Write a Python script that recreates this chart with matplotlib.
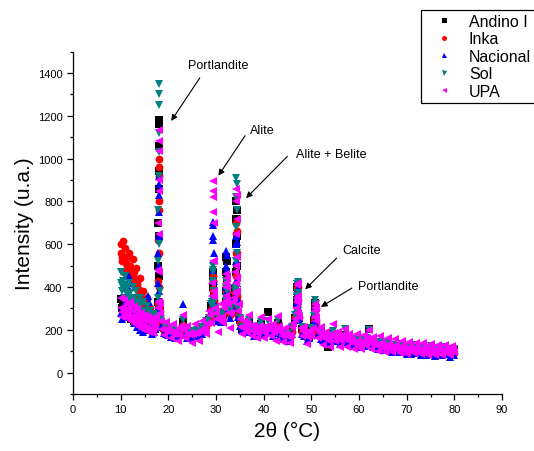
import numpy as np
import matplotlib
matplotlib.use('Agg')
import matplotlib.pyplot as plt
from matplotlib.ticker import MultipleLocator
from matplotlib.lines import Line2D

plt.rcParams['font.family'] = ['Liberation Sans', 'DejaVu Sans']

# ---------------- data ----------------
series_names = ['Andino I', 'Inka', 'Nacional', 'Sol', 'UPA']
series_colors = ['#000000', '#ff0000', '#0000ff', '#008080', '#ff00ff']
series_markers = ['s', 'o', '^', 'v', '<']

# scan grid (2theta): 0.25 deg steps 10-17.25, then 0.5 deg steps 17.5-80
two_theta_scan = np.concatenate([np.arange(10.0, 17.3, 0.25), np.arange(17.5, 80.01, 0.5)])

andino_scan = [
    345, 300, 320, 280, 310, 270, 300, 260, 290, 250, 280, 240, 270, 235, 260,
    225, 250, 215, 245, 210, 240, 205, 235, 200, 230, 200, 225, 195, 220, 205,
    255, 310, 225, 210, 190,
    200, 180, 190, 172, 185, 185, 235, 185, 182, 170,
    185, 175, 195, 185, 205, 200, 228, 245, 310, 325,
    275, 245, 260, 275, 330, 295, 280, 305, 390, 355,
    245, 205, 218, 212, 235, 200, 198, 185, 212, 225,
    200, 200, 285, 195, 198, 188, 230, 185, 182, 172,
    178, 162, 205, 255, 325, 255, 205, 180, 176, 166,
    200, 245, 246, 185, 184, 160, 168, 120, 166, 182,
    176, 155, 158, 158, 176, 150, 160, 145, 148, 142,
    144, 128, 150, 150, 205, 138, 144, 130, 138, 132,
    130, 114, 135, 118, 120, 122, 120, 106, 126, 108,
    110, 112, 113, 98, 120, 104, 108, 110, 105, 94,
    115, 100, 102, 104, 105, 92, 111, 97, 100, 102,
    105]

inka_scan = [
    600, 520, 617, 470, 580, 540, 450, 560, 500, 430, 530, 470, 400, 490, 420,
    350, 440, 380, 330, 380, 340, 300, 350, 310, 280, 300, 270, 250, 265, 240,
    245, 295, 235, 195, 198,
    188, 186, 175, 178, 170, 188, 222, 188, 170, 176,
    170, 181, 180, 191, 190, 206, 214, 248, 292, 328,
    262, 248, 247, 278, 312, 298, 267, 308, 372, 358,
    232, 210, 204, 218, 217, 203, 184, 188, 197, 218,
    187, 203, 212, 198, 184, 193, 212, 188, 167, 176,
    162, 166, 192, 258, 312, 258, 192, 183, 162, 170,
    187, 248, 232, 188, 170, 163, 154, 156, 152, 178,
    162, 158, 144, 160, 162, 153, 147, 148, 134, 146,
    130, 130, 137, 153, 157, 140, 130, 133, 124, 136,
    117, 116, 122, 120, 107, 123, 107, 108, 112, 110,
    97, 113, 100, 100, 107, 106, 94, 112, 92, 96,
    102, 102, 89, 105, 92, 93, 98, 98, 87, 103,
    92]

nacional_scan = [
    280, 250, 300, 260, 330, 280, 400, 450, 420, 300, 260, 230, 280, 240, 215,
    260, 200, 235, 210, 190, 230, 300, 300, 360, 330, 200, 180, 215, 190, 210,
    225, 290, 215, 185, 180,
    178, 168, 170, 160, 165, 180, 320, 175, 160, 165,
    160, 170, 170, 180, 180, 195, 205, 240, 290, 320,
    250, 240, 235, 270, 330, 300, 255, 300, 360, 350,
    220, 200, 192, 208, 205, 192, 172, 178, 185, 208,
    175, 192, 200, 188, 172, 183, 200, 176, 155, 166,
    150, 156, 180, 248, 300, 246, 180, 172, 150, 160,
    175, 238, 220, 176, 158, 152, 142, 146, 140, 166,
    150, 146, 132, 150, 150, 142, 135, 138, 122, 136,
    118, 120, 125, 143, 145, 130, 118, 123, 112, 126,
    105, 106, 110, 110, 95, 113, 95, 98, 100, 100,
    85, 103, 88, 90, 95, 96, 82, 102, 80, 86,
    90, 92, 77, 95, 80, 83, 86, 88, 75, 93,
    80]

sol_scan = [
    470, 380, 430, 350, 450, 400, 340, 420, 370, 330, 400, 350, 310, 380, 330,
    300, 350, 320, 280, 330, 290, 270, 310, 280, 250, 290, 260, 240, 275, 250,
    265, 320, 250, 225, 205,
    210, 190, 200, 185, 195, 195, 245, 200, 190, 185,
    195, 185, 200, 195, 215, 210, 240, 255, 320, 340,
    285, 255, 270, 285, 335, 305, 290, 320, 395, 370,
    255, 215, 228, 225, 245, 210, 205, 195, 220, 235,
    205, 210, 240, 205, 205, 200, 245, 195, 190, 185,
    185, 172, 215, 270, 335, 265, 215, 190, 185, 178,
    210, 265, 255, 195, 192, 170, 175, 162, 175, 195,
    182, 165, 165, 168, 205, 160, 168, 155, 155, 152,
    150, 136, 158, 160, 200, 146, 150, 140, 145, 142,
    138, 122, 142, 126, 128, 130, 128, 114, 133, 116,
    118, 120, 120, 106, 128, 112, 115, 118, 112, 102,
    123, 108, 110, 111, 113, 99, 119, 104, 108, 109,
    112]

upa_scan = [
    350, 260, 300, 340, 270, 320, 250, 300, 330, 240, 290, 310, 225, 270, 295,
    215, 260, 280, 205, 250, 270, 195, 240, 260, 190, 235, 255, 185, 230, 250,
    260, 330, 240, 175, 235,
    210, 160, 225, 195, 150, 210, 270, 160, 220, 185,
    140, 225, 190, 150, 240, 200, 180, 290, 230, 360,
    280, 190, 320, 230, 400, 320, 210, 330, 470, 440,
    250, 180, 240, 190, 270, 170, 220, 160, 210, 260,
    160, 210, 250, 170, 225, 150, 265, 190, 145, 210,
    170, 140, 215, 250, 330, 260, 170, 215, 135, 195,
    170, 260, 240, 160, 215, 130, 190, 165, 120, 225,
    150, 190, 120, 175, 205, 120, 180, 150, 110, 180,
    140, 110, 175, 130, 200, 110, 165, 130, 100, 170,
    125, 95, 160, 120, 95, 155, 115, 90, 150, 110,
    85, 145, 105, 90, 140, 100, 85, 140, 105, 80,
    135, 100, 80, 130, 95, 80, 130, 100, 80, 125,
    95]

# intermediate scan points (between the grid points above)
two_theta_mid = np.arange(17.75, 79.8, 0.5)
upa_mid = [
    300, 280, 205, 200, 200,
    190, 185, 180, 180, 175, 220, 200, 175, 180, 175,
    180, 185, 190, 195, 200, 215, 230, 270, 420, 300,
    250, 250, 260, 300, 330, 280, 280, 350, 420, 320,
    215, 210, 215, 225, 220, 195, 190, 190, 220, 210,
    185, 220, 210, 195, 190, 210, 220, 170, 180, 175,
    165, 175, 230, 300, 340, 210, 195, 175, 165, 180,
    210, 290, 200, 185, 170, 160, 165, 150, 170, 185,
    165, 155, 150, 175, 160, 150, 160, 140, 145, 150,
    125, 140, 150, 160, 150, 135, 140, 130, 135, 140,
    110, 125, 135, 110, 120, 130, 105, 115, 125, 100,
    110, 120, 95, 110, 120, 95, 108, 120, 92, 105,
    115, 92, 102, 112, 90, 100, 112, 90, 100, 110]

two_theta_onset = np.arange(10.125, 17.2, 0.25)
inka_onset = [
    560, 540, 530, 520, 510, 500, 490, 480, 470, 460, 450, 430, 420, 410, 390,
    380, 360, 350, 330, 320, 310, 300, 290, 280, 270, 260, 250, 240, 235]
sol_onset = [
    420, 405, 410, 385, 385, 365, 370, 350, 350, 330, 335, 315, 320, 300, 305,
    285, 290, 275, 275, 260, 265, 250, 255, 240, 245, 230, 235, 225, 232]
upa_onset = [
    300, 285, 290, 275, 280, 265, 270, 255, 262, 248, 255, 238, 245, 230, 236,
    222, 228, 215, 222, 208, 215, 205, 210, 200, 206, 196, 202, 200, 215]

# finely sampled points across the main reflections
peak_two_theta = [
    17.86, 17.90, 17.93, 17.96, 17.98, 18.00, 18.02, 18.04, 18.07, 18.11, 18.16,
    29.20, 29.27, 29.32, 29.36, 29.40, 29.44, 29.48, 29.54, 29.62,
    32.05, 32.12, 32.18, 32.23, 32.28, 32.35,
    34.05, 34.12, 34.18, 34.23, 34.27, 34.31, 34.35, 34.40, 34.48, 34.58,
    46.95, 47.02, 47.08, 47.13, 47.20, 47.30,
    50.70, 50.78, 50.85, 50.92, 51.00]

andino_peaks = [
    330, 500, 700, 940, 1160, 1180, 1060, 860, 640, 450, 300,
    320, 400, 450, 470, 450, 400, 360, 320, 290,
    380, 470, 540, 520, 440, 360,
    360, 470, 600, 720, 800, 760, 640, 500, 360, 280,
    270, 340, 400, 410, 350, 270,
    255, 305, 325, 300, 250]
inka_peaks = [
    320, 430, 620, 800, 920, 1000, 960, 760, 560, 400, 290,
    300, 380, 430, 450, 430, 390, 340, 300, 280,
    340, 380, 410, 400, 370, 320,
    350, 450, 560, 650, 700, 660, 560, 450, 340, 270,
    265, 330, 390, 400, 340, 260,
    250, 295, 315, 295, 245]
nacional_peaks = [
    300, 420, 560, 750, 880, 920, 830, 640, 500, 380, 280,
    340, 480, 620, 705, 690, 640, 560, 430, 330,
    400, 500, 570, 550, 480, 380,
    340, 430, 520, 600, 640, 610, 520, 420, 330, 260,
    260, 325, 380, 395, 335, 255,
    245, 290, 310, 290, 240]
sol_peaks = [
    350, 520, 760, 1030, 1250, 1350, 1300, 1120, 920, 600, 380,
    330, 420, 480, 500, 470, 430, 380, 330, 300,
    350, 400, 430, 420, 380, 330,
    380, 520, 680, 820, 910, 880, 760, 560, 400, 300,
    285, 360, 415, 425, 370, 290,
    270, 320, 340, 320, 270]
upa_peaks = [
    330, 480, 700, 900, 1080, 1135, 1035, 850, 650, 470, 320,
    360, 520, 750, 820, 895, 850, 700, 520, 380,
    360, 420, 460, 440, 400, 340,
    370, 500, 650, 800, 860, 830, 720, 540, 380, 290,
    280, 350, 410, 420, 360, 280,
    260, 300, 320, 300, 255]

annotations = [
    ('Portlandite', (20.6, 1176), (26.6, 1377), (24.1, 1437)),
    ('Alite', (30.5, 920), (36.1, 1107), (37.1, 1135)),
    ('Alite + Belite', (36.3, 815), (44.95, 1010), (46.8, 1022)),
    ('Calcite', (48.7, 389), (55.3, 535), (56.6, 571)),
    ('Portlandite', (52.0, 307), (58.5, 395), (59.8, 403)),
]

# assemble each pattern from its scan, extra scan points and peak points
patterns = {
    'Andino I': [(two_theta_scan, andino_scan), (peak_two_theta, andino_peaks)],
    'Inka': [(two_theta_scan, inka_scan), (two_theta_onset, inka_onset),
             (peak_two_theta, inka_peaks)],
    'Nacional': [(two_theta_scan, nacional_scan), (peak_two_theta, nacional_peaks)],
    'Sol': [(two_theta_scan, sol_scan), (two_theta_onset, sol_onset),
            (peak_two_theta, sol_peaks)],
    'UPA': [(two_theta_scan, upa_scan), (two_theta_onset, upa_onset),
            (two_theta_mid, upa_mid), (peak_two_theta, upa_peaks)],
}

# ---------------- figure ----------------
W, H = 534, 452
fig = plt.figure(figsize=(W / 100, H / 100), dpi=100)
ax = fig.add_axes([73 / W, 1 - 395 / H, (502 - 73) / W, (395 - 52.6) / H])

for name, col, mk in zip(series_names, series_colors, series_markers):
    parts = patterns[name]
    xs = np.concatenate([np.asarray(p[0], float) for p in parts])
    ys = np.concatenate([np.asarray(p[1], float) for p in parts])
    ax.plot(xs, ys, linestyle='none', marker=mk, ms=5.6, mew=0,
            color=col, label=name)

ax.set_xlim(0, 90)
ax.set_ylim(-100, 1500)
ax.xaxis.set_major_locator(MultipleLocator(10))
ax.xaxis.set_minor_locator(MultipleLocator(5))
ax.set_yticks([0, 200, 400, 600, 800, 1000, 1200, 1400])
ax.yaxis.set_minor_locator(MultipleLocator(100))
ax.tick_params(which='both', direction='out', labelsize=8, width=0.9)
ax.tick_params(which='major', length=4)
ax.tick_params(which='minor', length=2.3)
for s in ['top', 'right']:
    ax.spines[s].set_visible(False)
for s in ['left', 'bottom']:
    ax.spines[s].set_linewidth(0.9)

ax.set_xlabel('2θ (°C)', fontsize=15, labelpad=5)
ax.set_ylabel('Intensity (u.a.)', fontsize=15, labelpad=3)

for text, head, tail, tpos in annotations:
    ax.annotate('', xy=head, xytext=tail,
                arrowprops=dict(arrowstyle='-|>', color='black', lw=0.8,
                                mutation_scale=9, shrinkA=0, shrinkB=0))
    ax.text(tpos[0], tpos[1], text, fontsize=9, ha='left', va='center')

handles = [Line2D([], [], linestyle='none', marker=m, color=c, ms=3.6, mew=0)
           for m, c in zip(series_markers, series_colors)]
leg = fig.legend(handles, series_names, loc='upper left',
                 bbox_to_anchor=(421 / W, 1 - 11 / H), bbox_transform=fig.transFigure,
                 frameon=True, fancybox=False, edgecolor='black', framealpha=1,
                 fontsize=11.5, borderpad=0.25, labelspacing=0.15,
                 handlelength=2.4, handletextpad=0.35, borderaxespad=0)
leg.get_frame().set_linewidth(0.9)

fig.savefig('out.png', dpi=100)
